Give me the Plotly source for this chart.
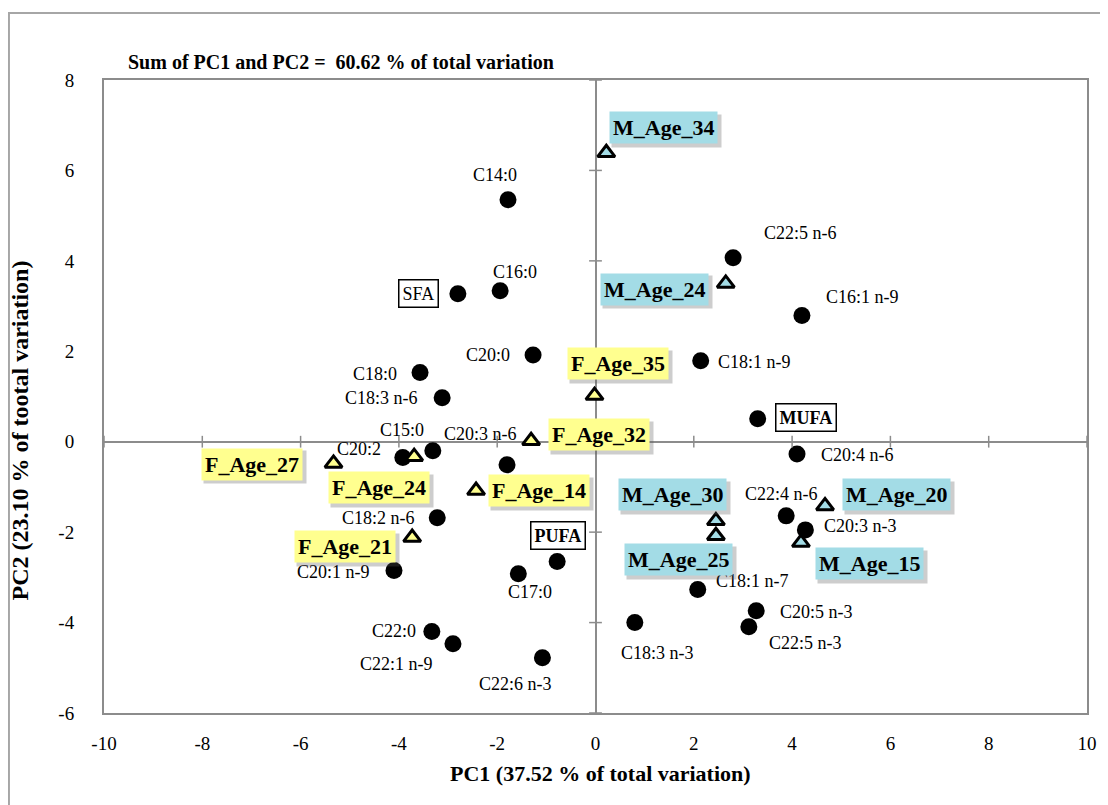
import plotly.graph_objects as go

# ---------------- data ----------------
fa_names = ["C14:0", "C16:0", "SFA", "C20:0", "C18:0", "C18:3 n-6", "C15:0", "C20:2",
            "C20:3 n-6", "C18:2 n-6", "C20:1 n-9", "PUFA", "C17:0", "C22:0", "C22:1 n-9",
            "C22:6 n-3", "C22:5 n-6", "C16:1 n-9", "C18:1 n-9", "MUFA", "C20:4 n-6",
            "C22:4 n-6", "C20:3 n-3", "C18:1 n-7", "C20:5 n-3", "C22:5 n-3", "C18:3 n-3"]
fa_pc1 = [-1.78, -1.94, -2.80, -1.27, -3.57, -3.12, -3.31, -3.92,
          -1.80, -3.22, -4.10, -0.78, -1.57, -3.33, -2.90,
          -1.08, 2.80, 4.20, 2.14, 3.30, 4.10,
          3.88, 4.27, 2.08, 3.27, 3.12, 0.80]
fa_pc2 = [5.35, 3.34, 3.27, 1.92, 1.53, 0.97, -0.20, -0.35,
          -0.51, -1.68, -2.85, -2.65, -2.92, -4.20, -4.47,
          -4.78, 4.07, 2.79, 1.79, 0.51, -0.27,
          -1.64, -1.95, -3.27, -3.74, -4.09, -4.00]

female_names = ["F_Age_35", "F_Age_32", "F_Age_27", "F_Age_24", "F_Age_14", "F_Age_21"]
female_pc1 = [-0.02, -1.31, -5.33, -3.69, -2.43, -3.73]
female_pc2 = [1.02, 0.02, -0.48, -0.33, -1.08, -2.12]

male_names = ["M_Age_34", "M_Age_24", "M_Age_30", "M_Age_25", "M_Age_20", "M_Age_15"]
male_pc1 = [0.22, 2.65, 2.45, 2.45, 4.67, 4.18]
male_pc2 = [6.39, 3.50, -1.75, -2.08, -1.42, -2.23]

x_ticks = [-10, -8, -6, -4, -2, 0, 2, 4, 6, 8, 10]
y_ticks = [-6, -4, -2, 0, 2, 4, 6, 8]
x_ticklabels = ["-10", "-8", "-6", "-4", "-2", "0", "2", "4", "6", "8", "10"]
y_ticklabels = ["-6", "-4", "-2", "0", "2", "4", "6", "8"]

title_text = "Sum of PC1 and PC2 =  60.62 % of total variation"
x_title = "PC1 (37.52 % of total variation)"
y_title = "PC2 (23.10 % of tootal variation)"

# ---------------- styling (label offsets in pixels: dx right, dy up) ----------------
fa_offsets = {
    "C14:0": (-13, 25), "C16:0": (15, 19), "SFA": (-39, 0), "C20:0": (-45, 0),
    "C18:0": (-45, -1), "C18:3 n-6": (-61, 0), "C15:0": (-31, 21), "C20:2": (-44, 9),
    "C20:3 n-6": (-27, 31), "C18:2 n-6": (-59, 0), "C20:1 n-9": (-60, -1),
    "PUFA": (1, 26), "C17:0": (12, -18), "C22:0": (-38, 1), "C22:1 n-9": (-56, -20),
    "C22:6 n-3": (-27, -26), "C22:5 n-6": (67, 25), "C16:1 n-9": (61, 19),
    "C18:1 n-9": (54, -1), "MUFA": (48, 1), "C20:4 n-6": (60, -1),
    "C22:4 n-6": (-5, 22), "C20:3 n-3": (55, 4), "C18:1 n-7": (55, 9),
    "C20:5 n-3": (60, -1), "C22:5 n-3": (57, -16), "C18:3 n-3": (23, -30),
}
age_offsets = {
    "M_Age_34": (57, 25), "M_Age_24": (-71, -6), "F_Age_35": (23, 32),
    "F_Age_32": (68, 6), "F_Age_27": (-82, -1), "F_Age_24": (-35, -31),
    "F_Age_14": (63, 0), "F_Age_21": (-67, -9), "M_Age_30": (-43, 26),
    "M_Age_25": (-37, -24), "M_Age_20": (71, 11), "M_Age_15": (69, -21),
}
SERIF = "Liberation Serif, Times New Roman, serif"
YELLOW = "#FFFF8F"
BLUE = "#A3DCE6"
GRID = "#8C8C8C"
AGE_FONT = 22
# approx. bold Times glyph widths (em) used to size the drop shadows
GLYPH_W = {"F": 0.611, "M": 0.944, "_": 0.5, "A": 0.722, "g": 0.5, "e": 0.444}


def text_width(s, size):
    return sum(GLYPH_W.get(c, 0.5) for c in s) * size


fig = go.Figure()

fig.add_trace(go.Scatter(
    x=fa_pc1, y=fa_pc2, mode="markers", name="Fatty acids",
    marker=dict(symbol="circle", size=17, color="black"),
    hoverinfo="text", text=fa_names))
fig.add_trace(go.Scatter(
    x=female_pc1, y=female_pc2, mode="markers", name="Female",
    marker=dict(symbol="triangle-up", size=15, color=YELLOW,
                line=dict(color="black", width=3)),
    hoverinfo="text", text=female_names))
fig.add_trace(go.Scatter(
    x=male_pc1, y=male_pc2, mode="markers", name="Male",
    marker=dict(symbol="triangle-up", size=15, color=BLUE,
                line=dict(color="black", width=3)),
    hoverinfo="text", text=male_names))

annotations = []
# fatty acid labels
for name, x, y in zip(fa_names, fa_pc1, fa_pc2):
    dx, dy = fa_offsets[name]
    if name in ("SFA", "PUFA", "MUFA"):
        bold = name != "SFA"
        annotations.append(dict(
            x=x, y=y, xref="x", yref="y", showarrow=False,
            text=f"<b>{name}</b>" if bold else name,
            xshift=dx, yshift=dy,
            font=dict(family=SERIF, size=18, color="black"),
            bgcolor="white", bordercolor="black", borderwidth=1.5, borderpad=3))
    else:
        annotations.append(dict(
            x=x, y=y, xref="x", yref="y", showarrow=False, text=name,
            xshift=dx, yshift=dy,
            font=dict(family=SERIF, size=18, color="black")))

# age labels (with drop shadow drawn as an empty box)
for names, xs, ys, col in ((female_names, female_pc1, female_pc2, YELLOW),
                           (male_names, male_pc1, male_pc2, BLUE)):
    for name, x, y in zip(names, xs, ys):
        dx, dy = age_offsets[name]
        annotations.append(dict(
            x=x, y=y, xref="x", yref="y", showarrow=False,
            text=" ", width=text_width(name, AGE_FONT) + 2, height=26,
            xshift=dx + 3, yshift=dy - 3,
            font=dict(family=SERIF, size=AGE_FONT, color="rgba(0,0,0,0)"),
            bgcolor="rgba(90,90,90,0.3)", borderpad=3))
        annotations.append(dict(
            x=x, y=y, xref="x", yref="y", showarrow=False,
            text=f"<b>{name}</b>", xshift=dx, yshift=dy,
            font=dict(family=SERIF, size=AGE_FONT, color="black"),
            bgcolor=col, borderpad=3))

# titles
annotations.append(dict(
    x=0.0224, y=1.028, xref="paper", yref="paper", xanchor="left", yanchor="middle",
    showarrow=False, text=f"<b>{title_text}</b>",
    font=dict(family=SERIF, size=20, color="black")))
annotations.append(dict(
    x=0.5046, y=-0.095, xref="paper", yref="paper", xanchor="center", yanchor="middle",
    showarrow=False, text=f"<b>{x_title}</b>",
    font=dict(family=SERIF, size=22, color="black")))
annotations.append(dict(
    x=-0.085, y=0.447, xref="paper", yref="paper", xanchor="center", yanchor="middle",
    showarrow=False, text=f"<b>{y_title}</b>", textangle=-90,
    font=dict(family=SERIF, size=24, color="black")))

# cross tick marks on the zero lines
shapes = []
for t in x_ticks:
    shapes.append(dict(type="line", xref="x", yref="y", x0=t, x1=t, y0=-0.13, y1=0.13,
                       line=dict(color=GRID, width=1.5)))
for t in y_ticks:
    shapes.append(dict(type="line", xref="x", yref="y", x0=-0.13, x1=0.13, y0=t, y1=t,
                       line=dict(color=GRID, width=1.5)))
# outer chart frame
shapes.append(dict(type="rect", xref="paper", yref="paper",
                   x0=-0.0967, x1=1.05, y0=-0.2, y1=1.106,
                   line=dict(color="#A6A6A6", width=2), layer="below"))

fig.update_layout(
    width=1108, height=805,
    margin=dict(l=96, r=29, t=72, b=100),
    paper_bgcolor="white", plot_bgcolor="white",
    showlegend=False,
    annotations=annotations, shapes=shapes,
    xaxis=dict(range=[-10, 10], tickvals=x_ticks, ticktext=x_ticklabels, ticks="",
               showgrid=False,
               zeroline=True, zerolinecolor=GRID, zerolinewidth=1.5,
               showline=True, linecolor=GRID, linewidth=2, mirror=True,
               tickfont=dict(family=SERIF, size=19, color="black"),
               ticklabelstandoff=12),
    yaxis=dict(range=[-6, 8], tickvals=y_ticks, ticktext=y_ticklabels, ticks="",
               showgrid=False,
               zeroline=True, zerolinecolor=GRID, zerolinewidth=1.5,
               showline=True, linecolor=GRID, linewidth=2, mirror=True,
               tickfont=dict(family=SERIF, size=19, color="black"),
               ticklabelstandoff=24),
)

fig.write_html("out.html")
